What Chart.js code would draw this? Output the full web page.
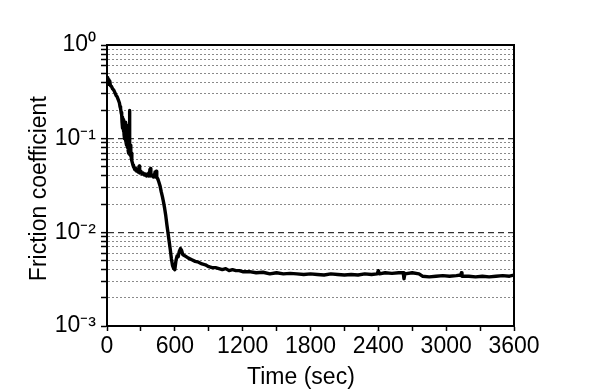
<!DOCTYPE html>
<html>
<head>
<meta charset="utf-8">
<script src="https://cdn.jsdelivr.net/npm/chart.js@4/dist/chart.umd.min.js"></script>
<style>
html,body{margin:0;padding:0;background:#fff;}
#c{display:block;}
</style>
</head>
<body>
<canvas id="c" width="598" height="391"></canvas>
<script>
// ---- data ----
const timeSec = [
  0,4,8,12,16,20,25,30,40,50,60,70,80,90,100,110,115,120,125,130,
  133,136,139,142,145,148,151,154,157,160,163,166,169,172,175,178,181,184,187,190,193,196,198,200,203,206,209,212,215,218,221,
  225,230,235,240,245,250,255,260,265,270,275,280,285,288,290,295,300,310,320,330,340,345,350,360,370,375,378,380,385,388,390,400,410,420,425,430,435,440,450,
  460,470,480,490,500,510,520,530,540,550,560,570,580,590,600,610,620,630,640,650,660,670,680,700,720,750,780,810,840,870,900,930,960,990,1020,1050,1080,1110,1140,1170,
  1200,1260,1320,1380,1440,1500,1560,1620,1680,1740,1800,1860,1920,1980,2040,2100,2160,2220,2280,2340,2390,2400,2410,2460,2520,2580,2620,2627,2635,2700,2760,2790,2850,2910,2970,3030,3090,3130,3135,3140,3200,3260,3320,3380,3440,3500,3560,3600
];
const friction = [
  0.44,0.40,0.45,0.38,0.43,0.39,0.41,0.37,0.36,0.34,0.33,0.31,0.29,0.28,0.26,0.24,0.22,0.21,0.19,0.18,
  0.15,0.17,0.13,0.16,0.12,0.15,0.11,0.14,0.10,0.15,0.095,0.13,0.09,0.14,0.085,0.12,0.08,0.13,0.075,0.11,0.07,0.12,0.20,0.09,0.068,0.085,0.065,0.075,0.062,0.07,0.058,
  0.055,0.052,0.05,0.049,0.047,0.048,0.046,0.045,0.047,0.046,0.044,0.045,0.051,0.044,0.043,0.045,0.044,0.042,0.043,0.041,0.042,0.041,0.040,0.042,0.040,0.044,0.047,0.041,0.048,0.040,0.041,0.041,0.039,0.040,0.044,0.039,0.045,0.039,0.037,
  0.034,0.031,0.027,0.024,0.021,0.018,0.015,0.012,0.0098,0.0080,0.0065,0.0052,0.0044,0.0041,0.0040,0.0050,0.0056,0.0055,0.0063,0.0067,0.0064,0.0058,0.0057,0.0055,0.0053,0.0051,0.0049,0.0048,0.0046,0.0045,0.0043,0.0042,0.0042,0.0041,0.0040,0.0041,0.0039,0.0040,0.0039,0.0039,
  0.0038,0.0038,0.0037,0.00375,0.0036,0.0037,0.0036,0.00365,0.0036,0.00355,0.0036,0.00355,0.0035,0.0036,0.00355,0.0035,0.00355,0.0035,0.0036,0.00355,0.0036,0.0039,0.0036,0.0037,0.00365,0.0037,0.0037,0.0032,0.0036,0.0037,0.0036,0.0034,0.00335,0.0034,0.00345,0.0034,0.00345,0.0035,0.0037,0.0034,0.0034,0.00335,0.0034,0.00335,0.0034,0.00345,0.0034,0.0035
];
const xTickValues = [0,600,1200,1800,2400,3000,3600];
const xTickLabels = ['0','600','1200','1800','2400','3000','3600'];
const yMajorValues = [0.001,0.01,0.1,1];
const yMajorLabels = ['10\u207B\u00B3','10\u207B\u00B2','10\u207B\u00B9','10\u2070'];
const yMinorMultipliers = [2,3,4,5,6,7,8,9];
const yDashedValues = [0.01,0.1];

const FONT = "'Liberation Sans', Arial, sans-serif";

function isDashed(v){ return yDashedValues.some(m => Math.abs(v-m)/m < 1e-6); }

const boxPlugin = {
  id: 'box',
  afterDraw(chart){
    const a = chart.chartArea, ctx = chart.ctx;
    ctx.save();
    ctx.strokeStyle = '#000';
    ctx.lineWidth = 2;
    ctx.strokeRect(a.left, a.top, a.right - a.left, a.bottom - a.top);
    ctx.restore();
  }
};

new Chart(document.getElementById('c'), {
  type: 'line',
  data: {
    datasets: [{
      data: timeSec.map((t,i) => ({x: t, y: friction[i]})),
      borderColor: '#000',
      borderWidth: 3.4,
      borderJoinStyle: 'round',
      borderCapStyle: 'round',
      pointRadius: 0,
      tension: 0,
      fill: false
    }]
  },
  options: {
    responsive: false,
    animation: false,
    devicePixelRatio: 1,
    layout: { padding: { left: 0, top: 45, right: 84, bottom: 0 } },
    plugins: { legend: { display: false }, tooltip: { enabled: false } },
    scales: {
      x: {
        type: 'linear',
        min: 0, max: 3600,
        afterFit(s){ s.height = 65; },
        ticks: {
          stepSize: 300,
          autoSkip: false,
          maxRotation: 0,
          padding: 2,
          color: '#000',
          font: { family: FONT, size: 23 },
          callback(v){ const i = xTickValues.indexOf(v); return i >= 0 ? xTickLabels[i] : ''; }
        },
        grid: {
          drawOnChartArea: false,
          drawTicks: true,
          tickLength: 5,
          tickColor: '#000',
          tickWidth: 1.5,
          tickBorderDash: []
        },
        border: { display: true, color: '#000', width: 2 },
        title: {
          display: true,
          text: 'Time (sec)\u00A0\u00A0\u00A0',
          color: '#000',
          font: { family: FONT, size: 23 },
          padding: { top: 0, bottom: 0 }
        }
      },
      y: {
        type: 'logarithmic',
        min: 0.001, max: 1,
        afterFit(s){ s.width = 107; },
        afterBuildTicks(s){
          const t = [];
          for (let k = 0; k < yMajorValues.length; k++){
            const m = yMajorValues[k];
            t.push({ value: m, major: true });
            if (k < yMajorValues.length - 1){
              yMinorMultipliers.forEach(mult => t.push({ value: +(m*mult).toPrecision(6), major: false }));
            }
          }
          s.ticks = t;
        },
        ticks: {
          autoSkip: false,
          padding: 5,
          color: '#000',
          font: { family: FONT, size: 23 },
          callback(v){ const i = yMajorValues.findIndex(m => Math.abs(v-m)/m < 1e-6); return i >= 0 ? yMajorLabels[i] : ''; }
        },
        grid: {
          drawOnChartArea: true,
          drawTicks: true,
          tickLength: 6,
          tickWidth: 1.5,
          tickColor: '#000',
          tickBorderDash: [],
          color(ctx){
            if (!ctx.tick) return '#000';
            const v = ctx.tick.value;
            if (Math.abs(v-1) < 1e-9 || Math.abs(v-0.001) < 1e-9) return 'rgba(0,0,0,0)';
            return isDashed(v) ? '#333' : '#8a8a8a';
          },
          lineWidth(ctx){
            if (!ctx.tick) return 1;
            return isDashed(ctx.tick.value) ? 1.3 : 1;
          }
        },
        border: {
          display: true, color: '#000', width: 2,
          dash(ctx){
            if (!ctx.tick) return [];
            return isDashed(ctx.tick.value) ? [6,4] : [2,2];
          }
        },
        title: {
          display: true,
          text: 'Friction coefficient\u00A0',
          color: '#000',
          font: { family: FONT, size: 23 },
          padding: { top: 26, bottom: 0 }
        }
      }
    }
  },
  plugins: [boxPlugin]
});
</script>
</body>
</html>
